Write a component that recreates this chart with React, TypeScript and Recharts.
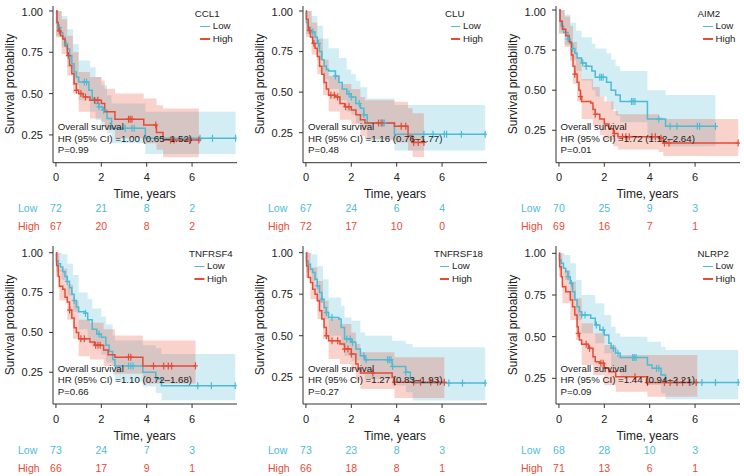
import React from 'react';
import { ComposedChart, Area, Line, Scatter, XAxis, YAxis } from 'recharts';

const BLUE = '#4DBBD5';
const RED = '#E64B35';
const INK = '#222';
const FONT = '"Liberation Sans", Arial, Helvetica, sans-serif';

type Pt = [number, number];
type Band = [number, number, number];

const riskTimes = [0, 2, 4, 6];

// ---------- CCL1 ----------
const ccl1Low: Pt[] = [[0, 1], [0.03, 0.93], [0.1, 0.9], [0.2, 0.87], [0.3, 0.84], [0.4, 0.8], [0.5, 0.77], [0.6, 0.73], [0.7, 0.68], [0.8, 0.63], [0.9, 0.6], [1.0, 0.57], [1.45, 0.52], [1.6, 0.47], [1.75, 0.44], [1.9, 0.42], [2.05, 0.4], [2.25, 0.35], [2.45, 0.29], [3.94, 0.23], [7.92, 0.23]];
const ccl1High: Pt[] = [[0, 1], [0.05, 0.93], [0.1, 0.88], [0.2, 0.85], [0.3, 0.83], [0.4, 0.79], [0.5, 0.73], [0.6, 0.67], [0.7, 0.62], [0.8, 0.56], [0.9, 0.52], [1.0, 0.5], [1.2, 0.48], [1.5, 0.46], [2.0, 0.44], [2.15, 0.39], [2.6, 0.345], [3.87, 0.31], [4.43, 0.265], [4.72, 0.22], [6.3, 0.22]];
const ccl1LowBand: Band[] = [[0, 0.85, 1.0], [0.25, 0.78, 0.97], [0.5, 0.66, 0.89], [0.75, 0.55, 0.8], [1.0, 0.46, 0.7], [1.5, 0.39, 0.66], [1.75, 0.34, 0.6], [2.0, 0.3, 0.55], [2.25, 0.26, 0.49], [2.45, 0.2, 0.44], [3.94, 0.135, 0.39], [7.92, 0.135, 0.39]];
const ccl1HighBand: Band[] = [[0, 0.84, 1.0], [0.25, 0.74, 0.95], [0.5, 0.61, 0.85], [0.75, 0.5, 0.75], [1.0, 0.39, 0.63], [1.5, 0.35, 0.6], [2.0, 0.33, 0.58], [2.15, 0.28, 0.53], [2.6, 0.23, 0.5], [3.87, 0.2, 0.47], [4.43, 0.16, 0.43], [4.72, 0.115, 0.41], [6.3, 0.115, 0.41]];
const ccl1LowCens = [0.15, 0.45, 0.6, 1.25, 1.35, 1.9, 2.1, 3.05, 3.35, 3.45, 6.35, 6.9, 7.92];
const ccl1HighCens = [0.15, 0.55, 0.9, 1.1, 1.3, 1.7, 1.85, 3.2, 3.27, 3.35, 4.4, 5.05, 5.2, 5.9, 6.3];
const ccl1LowRisk = [72, 21, 8, 2];
const ccl1HighRisk = [67, 20, 8, 2];

// ---------- CLU ----------
const cluLow: Pt[] = [[0, 1], [0.02, 0.93], [0.1, 0.9], [0.2, 0.87], [0.4, 0.84], [0.5, 0.8], [0.6, 0.75], [0.7, 0.7], [0.8, 0.66], [0.9, 0.64], [1.0, 0.63], [1.3, 0.6], [1.45, 0.56], [1.6, 0.52], [1.8, 0.49], [2.0, 0.47], [2.2, 0.43], [2.4, 0.4], [2.55, 0.36], [2.7, 0.31], [3.9, 0.24], [7.9, 0.24]];
const cluHigh: Pt[] = [[0, 1], [0.02, 0.95], [0.1, 0.88], [0.2, 0.84], [0.3, 0.8], [0.4, 0.77], [0.5, 0.72], [0.6, 0.66], [0.7, 0.61], [0.8, 0.56], [0.9, 0.52], [1.0, 0.48], [1.3, 0.47], [1.5, 0.43], [1.7, 0.41], [2.0, 0.39], [2.2, 0.36], [2.4, 0.33], [2.6, 0.31], [3.9, 0.29], [4.5, 0.23], [4.7, 0.19], [5.2, 0.19]];
const cluLowBand: Band[] = [[0, 0.86, 1.0], [0.25, 0.8, 0.97], [0.5, 0.7, 0.91], [0.75, 0.58, 0.83], [1.0, 0.52, 0.77], [1.45, 0.45, 0.71], [1.8, 0.38, 0.64], [2.0, 0.36, 0.61], [2.2, 0.31, 0.57], [2.4, 0.27, 0.53], [2.7, 0.2, 0.46], [3.9, 0.14, 0.42], [7.9, 0.14, 0.42]];
const cluHighBand: Band[] = [[0, 0.84, 1.0], [0.25, 0.73, 0.93], [0.5, 0.61, 0.83], [0.75, 0.48, 0.7], [1.0, 0.38, 0.6], [1.5, 0.33, 0.55], [2.0, 0.3, 0.52], [2.4, 0.23, 0.47], [2.6, 0.21, 0.45], [3.9, 0.19, 0.44], [4.5, 0.14, 0.4], [4.7, 0.1, 0.37], [5.2, 0.1, 0.37]];
const cluLowCens = [0.3, 0.55, 1.3, 1.9, 2.0, 2.35, 2.55, 3.3, 3.4, 3.45, 5.2, 5.6, 6.1, 6.2, 6.85, 7.9];
const cluHighCens = [0.15, 0.35, 1.1, 1.25, 1.4, 1.75, 1.9, 3.2, 3.35, 4.2, 4.4, 4.75, 4.95, 5.2];
const cluLowRisk = [67, 24, 6, 4];
const cluHighRisk = [72, 17, 10, 0];

// ---------- AIM2 ----------
const aim2Low: Pt[] = [[0, 1], [0.05, 0.93], [0.1, 0.9], [0.2, 0.86], [0.4, 0.82], [0.5, 0.79], [0.6, 0.76], [0.7, 0.73], [0.8, 0.7], [1.0, 0.67], [1.2, 0.65], [1.45, 0.62], [1.6, 0.58], [2.1, 0.55], [2.3, 0.5], [2.5, 0.47], [2.7, 0.43], [3.9, 0.32], [4.7, 0.275], [6.9, 0.275]];
const aim2High: Pt[] = [[0, 1], [0.05, 0.93], [0.15, 0.88], [0.3, 0.84], [0.45, 0.8], [0.55, 0.72], [0.62, 0.65], [0.7, 0.6], [0.8, 0.55], [0.88, 0.5], [0.95, 0.46], [1.0, 0.43], [1.4, 0.42], [1.5, 0.38], [1.6, 0.35], [1.8, 0.32], [2.0, 0.29], [2.2, 0.26], [2.4, 0.23], [2.6, 0.21], [4.4, 0.2], [4.6, 0.17], [7.9, 0.17]];
const aim2LowBand: Band[] = [[0, 0.86, 1.0], [0.25, 0.78, 0.97], [0.5, 0.69, 0.92], [0.75, 0.62, 0.87], [1.0, 0.56, 0.83], [1.45, 0.5, 0.79], [1.6, 0.46, 0.76], [2.1, 0.43, 0.73], [2.3, 0.38, 0.69], [2.5, 0.34, 0.65], [2.7, 0.3, 0.62], [3.9, 0.19, 0.5], [4.7, 0.15, 0.47], [6.9, 0.15, 0.47]];
const aim2HighBand: Band[] = [[0, 0.85, 1.0], [0.25, 0.77, 0.96], [0.5, 0.68, 0.9], [0.62, 0.54, 0.8], [0.8, 0.43, 0.7], [1.0, 0.32, 0.57], [1.5, 0.28, 0.52], [1.8, 0.22, 0.46], [2.0, 0.19, 0.43], [2.4, 0.15, 0.37], [2.6, 0.13, 0.35], [4.4, 0.115, 0.33], [4.6, 0.09, 0.32], [7.9, 0.09, 0.32]];
const aim2LowCens = [0.4, 0.6, 1.05, 1.2, 1.8, 1.87, 1.95, 3.2, 3.27, 3.35, 4.4, 4.9, 5.2, 6.1, 6.2, 6.9];
const aim2HighCens = [0.7, 0.95, 1.6, 2.45, 2.8, 2.95, 3.1, 4.1, 4.25, 4.5, 4.65, 4.85, 7.9];
const aim2LowRisk = [70, 25, 9, 3];
const aim2HighRisk = [69, 16, 7, 1];

// ---------- TNFRSF4 ----------
const tnf4Low: Pt[] = [[0, 1], [0.02, 0.95], [0.1, 0.93], [0.2, 0.91], [0.3, 0.88], [0.4, 0.85], [0.5, 0.82], [0.6, 0.78], [0.7, 0.74], [0.8, 0.7], [0.9, 0.66], [1.0, 0.63], [1.3, 0.62], [1.4, 0.58], [1.6, 0.52], [1.8, 0.49], [2.0, 0.47], [2.2, 0.42], [2.35, 0.38], [2.5, 0.33], [2.6, 0.29], [3.83, 0.25], [4.4, 0.21], [4.65, 0.166], [7.9, 0.166]];
const tnf4High: Pt[] = [[0, 1], [0.03, 0.92], [0.1, 0.85], [0.15, 0.79], [0.3, 0.77], [0.4, 0.72], [0.5, 0.69], [0.6, 0.64], [0.7, 0.59], [0.8, 0.53], [0.9, 0.5], [1.0, 0.46], [1.5, 0.44], [1.7, 0.42], [2.1, 0.39], [2.3, 0.36], [2.6, 0.345], [3.83, 0.29], [6.15, 0.29]];
const tnf4LowBand: Band[] = [[0, 0.88, 1.0], [0.25, 0.83, 0.99], [0.5, 0.73, 0.93], [0.75, 0.63, 0.86], [1.0, 0.52, 0.75], [1.4, 0.46, 0.71], [1.6, 0.41, 0.65], [2.0, 0.36, 0.6], [2.2, 0.31, 0.55], [2.5, 0.23, 0.48], [2.6, 0.19, 0.45], [3.83, 0.16, 0.42], [4.4, 0.12, 0.4], [4.65, 0.075, 0.365], [7.9, 0.075, 0.365]];
const tnf4HighBand: Band[] = [[0, 0.85, 1.0], [0.15, 0.7, 0.9], [0.5, 0.58, 0.8], [0.75, 0.46, 0.7], [1.0, 0.35, 0.58], [1.5, 0.33, 0.56], [2.1, 0.29, 0.52], [2.6, 0.24, 0.48], [3.83, 0.18, 0.45], [6.15, 0.18, 0.45]];
const tnf4LowCens = [0.5, 0.8, 1.3, 1.9, 3.2, 3.3, 3.4, 6.25, 6.85, 7.9];
const tnf4HighCens = [0.6, 1.1, 1.25, 1.75, 1.85, 1.95, 3.2, 3.3, 4.3, 4.75, 4.95, 5.1, 6.15];
const tnf4LowRisk = [73, 24, 7, 3];
const tnf4HighRisk = [66, 17, 9, 1];

// ---------- TNFRSF18 ----------
const tnf18Low: Pt[] = [[0, 1], [0.02, 0.95], [0.1, 0.93], [0.2, 0.9], [0.3, 0.88], [0.4, 0.84], [0.5, 0.8], [0.6, 0.76], [0.7, 0.72], [0.8, 0.67], [0.9, 0.64], [1.0, 0.61], [1.45, 0.6], [1.55, 0.55], [1.7, 0.48], [2.0, 0.46], [2.2, 0.42], [2.4, 0.38], [2.6, 0.355], [3.8, 0.315], [4.4, 0.28], [4.6, 0.24], [4.7, 0.215], [7.9, 0.215]];
const tnf18High: Pt[] = [[0, 1], [0.03, 0.92], [0.1, 0.85], [0.2, 0.82], [0.3, 0.78], [0.4, 0.75], [0.5, 0.71], [0.6, 0.65], [0.7, 0.6], [0.8, 0.55], [0.9, 0.5], [1.0, 0.47], [1.5, 0.45], [1.7, 0.42], [2.0, 0.39], [2.2, 0.33], [2.3, 0.3], [2.4, 0.275], [3.8, 0.25], [3.9, 0.22], [6.1, 0.22]];
const tnf18LowBand: Band[] = [[0, 0.88, 1.0], [0.25, 0.83, 0.99], [0.5, 0.7, 0.92], [0.75, 0.6, 0.84], [1.0, 0.5, 0.73], [1.55, 0.44, 0.68], [1.7, 0.38, 0.61], [2.0, 0.35, 0.59], [2.4, 0.27, 0.52], [2.6, 0.24, 0.5], [3.8, 0.2, 0.47], [4.4, 0.16, 0.45], [4.7, 0.11, 0.43], [7.9, 0.11, 0.43]];
const tnf18HighBand: Band[] = [[0, 0.85, 1.0], [0.2, 0.72, 0.91], [0.5, 0.6, 0.83], [0.75, 0.48, 0.71], [1.0, 0.36, 0.6], [1.5, 0.33, 0.57], [2.0, 0.29, 0.52], [2.2, 0.23, 0.45], [2.4, 0.18, 0.4], [3.9, 0.125, 0.37], [6.1, 0.125, 0.37]];
const tnf18LowCens = [0.5, 0.7, 0.9, 1.15, 1.8, 1.95, 2.05, 2.55, 2.65, 3.6, 3.67, 3.75, 3.82, 4.4, 6.3, 6.9, 7.9];
const tnf18HighCens = [0.9, 1.15, 1.4, 1.7, 1.85, 2.0, 2.95, 3.9, 4.75, 5.05, 5.5, 5.8, 6.1];
const tnf18LowRisk = [73, 23, 8, 3];
const tnf18HighRisk = [66, 18, 8, 1];

// ---------- NLRP2 ----------
const nlrp2Low: Pt[] = [[0, 1], [0.02, 0.96], [0.1, 0.94], [0.2, 0.91], [0.3, 0.89], [0.4, 0.86], [0.5, 0.82], [0.6, 0.77], [0.7, 0.72], [0.8, 0.68], [0.9, 0.65], [1.0, 0.63], [1.4, 0.61], [1.6, 0.57], [1.8, 0.54], [2.0, 0.51], [2.2, 0.46], [2.3, 0.43], [2.5, 0.4], [2.7, 0.375], [3.9, 0.33], [4.1, 0.31], [4.5, 0.27], [4.7, 0.225], [7.9, 0.225]];
const nlrp2High: Pt[] = [[0, 1], [0.03, 0.92], [0.1, 0.86], [0.15, 0.8], [0.3, 0.77], [0.5, 0.72], [0.6, 0.68], [0.7, 0.63], [0.8, 0.56], [0.85, 0.52], [0.9, 0.48], [1.0, 0.455], [1.3, 0.43], [1.5, 0.38], [1.6, 0.35], [1.8, 0.34], [2.0, 0.31], [2.2, 0.29], [2.5, 0.26], [3.9, 0.225], [6.1, 0.225]];
const nlrp2LowBand: Band[] = [[0, 0.9, 1.0], [0.25, 0.84, 0.99], [0.5, 0.72, 0.94], [0.75, 0.6, 0.84], [1.0, 0.52, 0.75], [1.6, 0.46, 0.7], [2.0, 0.4, 0.63], [2.3, 0.32, 0.56], [2.5, 0.29, 0.52], [2.7, 0.26, 0.5], [3.9, 0.21, 0.47], [4.5, 0.16, 0.44], [4.7, 0.125, 0.42], [7.9, 0.125, 0.42]];
const nlrp2HighBand: Band[] = [[0, 0.86, 1.0], [0.15, 0.7, 0.9], [0.5, 0.6, 0.83], [0.75, 0.48, 0.73], [1.0, 0.33, 0.58], [1.5, 0.27, 0.52], [2.0, 0.21, 0.45], [2.5, 0.17, 0.39], [3.9, 0.14, 0.39], [6.1, 0.14, 0.39]];
const nlrp2LowCens = [0.4, 0.55, 1.0, 1.15, 1.65, 1.95, 2.4, 2.6, 3.25, 3.32, 3.4, 4.3, 4.4, 5.2, 5.8, 6.3, 6.9, 7.9];
const nlrp2HighCens = [0.85, 1.2, 1.35, 1.85, 1.95, 3.35, 3.9, 4.65, 4.9, 5.2, 5.45, 5.75, 6.05];
const nlrp2LowRisk = [68, 28, 10, 3];
const nlrp2HighRisk = [71, 13, 6, 1];

type PanelCfg = {
  gene: string;
  low: Pt[];
  high: Pt[];
  lowBand: Band[];
  highBand: Band[];
  lowCens: number[];
  highCens: number[];
  lowRisk: number[];
  highRisk: number[];
  hr: string;
  p: string;
  yDomain: [number, number];
};

const panels: PanelCfg[] = [
  { gene: 'CCL1', low: ccl1Low, high: ccl1High, lowBand: ccl1LowBand, highBand: ccl1HighBand, lowCens: ccl1LowCens, highCens: ccl1HighCens, lowRisk: ccl1LowRisk, highRisk: ccl1HighRisk, hr: '1.00 (0.65\u20131.52)', p: '0.99', yDomain: [0.082, 1.03] },
  { gene: 'CLU', low: cluLow, high: cluHigh, lowBand: cluLowBand, highBand: cluHighBand, lowCens: cluLowCens, highCens: cluHighCens, lowRisk: cluLowRisk, highRisk: cluHighRisk, hr: '1.16 (0.76\u20131.77)', p: '0.48', yDomain: [0.065, 1.031] },
  { gene: 'AIM2', low: aim2Low, high: aim2High, lowBand: aim2LowBand, highBand: aim2HighBand, lowCens: aim2LowCens, highCens: aim2HighCens, lowRisk: aim2LowRisk, highRisk: aim2HighRisk, hr: '1.72 (1.12\u20132.64)', p: '0.01', yDomain: [0.048, 1.025] },
  { gene: 'TNFRSF4', low: tnf4Low, high: tnf4High, lowBand: tnf4LowBand, highBand: tnf4HighBand, lowCens: tnf4LowCens, highCens: tnf4HighCens, lowRisk: tnf4LowRisk, highRisk: tnf4HighRisk, hr: '1.10 (0.72\u20131.68)', p: '0.66', yDomain: [0.051, 1.042] },
  { gene: 'TNFRSF18', low: tnf18Low, high: tnf18High, lowBand: tnf18LowBand, highBand: tnf18HighBand, lowCens: tnf18LowCens, highCens: tnf18HighCens, lowRisk: tnf18LowRisk, highRisk: tnf18HighRisk, hr: '1.27 (0.83\u20131.93)', p: '0.27', yDomain: [0.089, 1.04] },
  { gene: 'NLRP2', low: nlrp2Low, high: nlrp2High, lowBand: nlrp2LowBand, highBand: nlrp2HighBand, lowCens: nlrp2LowCens, highCens: nlrp2HighCens, lowRisk: nlrp2LowRisk, highRisk: nlrp2HighRisk, hr: '1.44 (0.94\u20132.21)', p: '0.09', yDomain: [0.096, 1.044] },
];

// layout
const COL_LEFT = [52.7, 303, 555.5];
const ROW_TOP = [6, 246];
const ROW_H = [156.7, 158];
const PLOT_W = 184;
const Y_AXIS_W = 52;
const X_AXIS_H = 20;
const X_DOMAIN: [number, number] = [-0.13, 7.98];

// value of a step curve at time t (censor marks sit on the curve)
const survAt = (curve: Pt[], t: number) => {
  let s = curve[0][1];
  for (const [ct, cs] of curve) if (ct <= t) s = cs;
  return s;
};

const cross = (props: any, color: string) => {
  const { cx, cy } = props;
  if (cx == null || cy == null) return <g />;
  return (
    <g stroke={color} strokeWidth={1.2}>
      <line x1={cx} x2={cx} y1={cy - 3.5} y2={cy + 3.5} />
      <line x1={cx - 2.5} x2={cx + 2.5} y1={cy} y2={cy} />
    </g>
  );
};

const riskTick = (p: any) => {
  const v = p.payload?.value;
  return (
    <text x={p.x - 35} y={p.y} dy="0.35em" textAnchor="start" fontSize={10.5} fontFamily={FONT} fill={v > 1 ? BLUE : RED}>
      {v > 1 ? 'Low' : 'High'}
    </text>
  );
};

const riskNumber = (p: any) => {
  const d = p.payload ?? p;
  if (p.cx == null || p.cy == null) return <g />;
  return (
    <text x={p.cx} y={p.cy} dy="0.35em" textAnchor="middle" fontSize={10.5} fontFamily={FONT} fill={d.g === 'Low' ? BLUE : RED}>
      {d.n}
    </text>
  );
};

function KMPanel({ cfg, col, row }: { cfg: PanelCfg; col: number; row: number }) {
  const plotLeft = COL_LEFT[col];
  const plotTop = ROW_TOP[row];
  const plotH = ROW_H[row];
  const plotBottom = plotTop + plotH;
  const chartW = Y_AXIS_W + PLOT_W + 4;

  const lowLine = cfg.low.map(([t, s]) => ({ t, s }));
  const highLine = cfg.high.map(([t, s]) => ({ t, s }));
  const lowBand = cfg.lowBand.map(([t, lo, hi]) => ({ t, lo, hi }));
  const highBand = cfg.highBand.map(([t, lo, hi]) => ({ t, lo, hi }));
  const lowCens = cfg.lowCens.map((t) => ({ t, s: survAt(cfg.low, t) }));
  const highCens = cfg.highCens.map((t) => ({ t, s: survAt(cfg.high, t) }));
  const riskRows = [
    ...cfg.lowRisk.map((n, i) => ({ t: riskTimes[i], y: 1.5, n, g: 'Low' })),
    ...cfg.highRisk.map((n, i) => ({ t: riskTimes[i], y: 0.5, n, g: 'High' })),
  ];

  return (
    <>
      <div style={{ position: 'absolute', left: plotLeft - Y_AXIS_W, top: plotTop }}>
        <ComposedChart width={chartW} height={plotH + X_AXIS_H} margin={{ top: 0, right: 4, bottom: 0, left: 0 }}>
          <XAxis
            type="number"
            dataKey="t"
            domain={X_DOMAIN}
            ticks={[0, 2, 4, 6]}
            allowDataOverflow
            height={X_AXIS_H}
            tickSize={4}
            tickMargin={7}
            stroke="#333"
            tick={{ fill: INK, fontSize: 11, fontFamily: FONT }}
          />
          <YAxis
            type="number"
            dataKey="s"
            domain={cfg.yDomain}
            ticks={[0.25, 0.5, 0.75, 1]}
            tickFormatter={(v: number) => v.toFixed(2)}
            allowDataOverflow
            width={Y_AXIS_W}
            tickSize={4}
            tickMargin={6}
            stroke="#333"
            tick={{ fill: INK, fontSize: 11, fontFamily: FONT }}
          />
          <Area data={lowBand} dataKey={(d: any) => [d.lo, d.hi]} type="stepAfter" fill={BLUE} fillOpacity={0.25} stroke="none" isAnimationActive={false} />
          <Area data={highBand} dataKey={(d: any) => [d.lo, d.hi]} type="stepAfter" fill={RED} fillOpacity={0.25} stroke="none" isAnimationActive={false} />
          <Line data={lowLine} dataKey="s" type="stepAfter" stroke={BLUE} strokeWidth={1.5} dot={false} activeDot={false} isAnimationActive={false} />
          <Line data={highLine} dataKey="s" type="stepAfter" stroke={RED} strokeWidth={1.5} dot={false} activeDot={false} isAnimationActive={false} />
          <Scatter data={lowCens} shape={(p: any) => cross(p, BLUE)} isAnimationActive={false} />
          <Scatter data={highCens} shape={(p: any) => cross(p, RED)} isAnimationActive={false} />
        </ComposedChart>
      </div>

      {/* axis titles */}
      <div
        style={{
          position: 'absolute',
          left: plotLeft + PLOT_W / 2,
          top: plotBottom + 31.5,
          transform: 'translate(-50%, -50%)',
          fontSize: 12,
          color: INK,
          whiteSpace: 'nowrap',
        }}
      >
        Time, years
      </div>
      <div
        style={{
          position: 'absolute',
          left: plotLeft - 43,
          top: plotTop + plotH / 2,
          transform: 'translate(-50%, -50%) rotate(-90deg)',
          fontSize: 12,
          color: INK,
          whiteSpace: 'nowrap',
        }}
      >
        Survival probability
      </div>

      {/* number at risk */}
      <div style={{ position: 'absolute', left: plotLeft - Y_AXIS_W, top: plotBottom + 36.5 }}>
        <ComposedChart width={chartW} height={36} margin={{ top: 0, right: 4, bottom: 0, left: 0 }}>
          <XAxis type="number" dataKey="t" domain={X_DOMAIN} hide />
          <YAxis
            type="number"
            dataKey="y"
            domain={[0, 2]}
            ticks={[0.5, 1.5]}
            interval={0}
            width={Y_AXIS_W}
            axisLine={false}
            tickLine={false}
            tickSize={0}
            tickMargin={0}
            tick={riskTick}
          />
          <Scatter data={riskRows} isAnimationActive={false} shape={riskNumber} />
        </ComposedChart>
      </div>

      {/* legend */}
      <div
        style={{
          position: 'absolute',
          left: plotLeft + PLOT_W - 4,
          top: plotTop + 1.8,
          transform: 'translateX(-100%)',
          fontSize: 9.7,
          lineHeight: '12.4px',
          color: INK,
          whiteSpace: 'nowrap',
        }}
      >
        <div>{cfg.gene}</div>
        {[
          ['Low', BLUE],
          ['High', RED],
        ].map(([name, c]) => (
          <div key={name} style={{ display: 'flex', alignItems: 'center' }}>
            <span style={{ display: 'inline-block', width: 9.5, height: 1.6, background: c, marginLeft: 5.5, marginRight: 3 }} />
            <span>{name}</span>
          </div>
        ))}
      </div>

      {/* annotation */}
      <div
        style={{
          position: 'absolute',
          left: plotLeft + 5,
          top: plotBottom - 41.25,
          fontSize: 9.7,
          lineHeight: '11.5px',
          color: INK,
          whiteSpace: 'nowrap',
        }}
      >
        <div>Overall survival</div>
        <div>HR (95% CI) ={cfg.hr}</div>
        <div>P={cfg.p}</div>
      </div>
    </>
  );
}

export default function App() {
  return (
    <div style={{ position: 'absolute', left: 0, top: 0, width: 744, height: 476, background: '#fff', fontFamily: FONT }}>
      {panels.map((cfg, i) => (
        <KMPanel key={cfg.gene} cfg={cfg} col={i % 3} row={Math.floor(i / 3)} />
      ))}
    </div>
  );
}
